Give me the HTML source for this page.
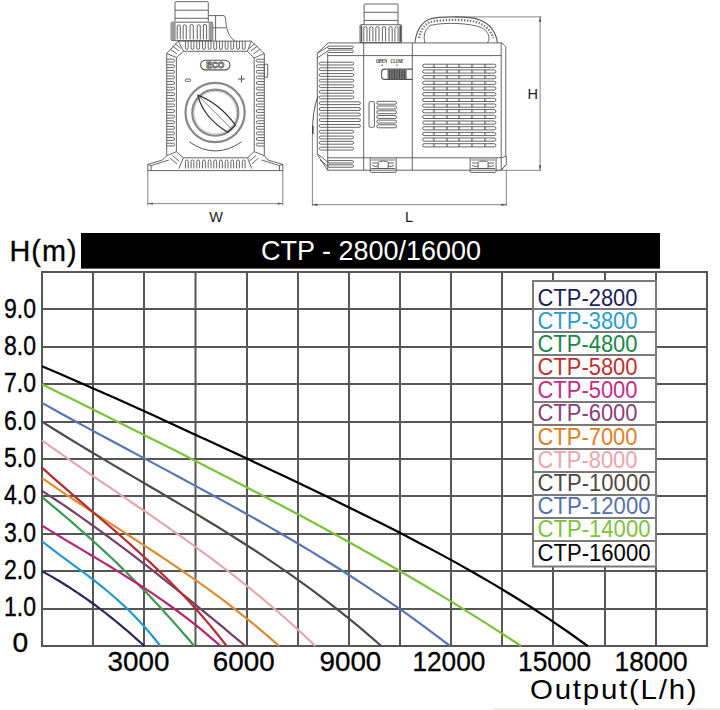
<!DOCTYPE html>
<html><head><meta charset="utf-8"><style>
html,body{margin:0;padding:0;background:#fff;width:720px;height:710px;overflow:hidden}
svg{display:block;font-family:"Liberation Sans",sans-serif}
</style></head><body>
<svg width="720" height="710" viewBox="0 0 720 710">
<rect width="720" height="710" fill="#fff"/>
<g fill="none" stroke="#555" stroke-width="0.9" stroke-linejoin="round">
<path d="M175 21.7V2.8Q175 1.7 176 1.7H207.3Q208.3 1.7 208.3 2.8V21.7" />
<path d="M175 10.2H208.3M175 18.3H208.3"/>
<rect x="171.1" y="22.2" width="41.7" height="18.4" rx="1"/>
<rect x="171.7" y="23" width="4" height="17" fill="#9a9a9a" stroke="none"/>
<rect x="208.7" y="23" width="3.6" height="17" fill="#9a9a9a" stroke="none"/>
<path d="M177.2 39.4V26A1.6 1.6 0 0 1 180.3 26V39.4"/>
<path d="M183.2 39.4V26A1.6 1.6 0 0 1 186.3 26V39.4"/>
<path d="M190.1 39.4V26A1.6 1.6 0 0 1 193.3 26V39.4"/>
<path d="M197.2 39.4V26A1.6 1.6 0 0 1 200.3 26V39.4"/>
<path d="M203.4 39.4V26A1.6 1.6 0 0 1 206.6 26V39.4"/>
<path d="M208.3 15.6H223.9Q225.6 15.6 225.8 22.2Q227 36 235 41.1M215.6 15.6V41.1M212.8 27.8H226.2"/>
<path d="M178.3 41.1H251.3L264.3 53.5V155.6L268 160 282.8 164.4V170.6H147.8V164.4L162.5 160 166.7 155.6V53.5Z"/>
<path d="M183.6 51.3H247.4L254.2 58V151.7L247.6 157.8H183.3L176.4 151.7V57.5Z"/>
<path d="M178.3 41.1L183.6 51.3M166.7 53.5L176.4 57.5M251.3 41.1L247.4 51.3M264.3 53.5L254.2 58M166.7 155.6L176.4 151.7M178.9 168.6L183.3 157.8M264.3 155.6L254.2 151.7M251.7 168.6L247.6 157.8"/>
<path d="M151.1 165.6L168.9 160M279.5 165.6L261.7 160M147.8 164.4L151.1 165.6V170.6M282.8 164.4L279.5 165.6V170.6"/>
<path d="M185.4 41.1V48A1.4 1.4 0 0 0 188.2 48V41.1"/>
<path d="M191.1 41.1V48A1.4 1.4 0 0 0 193.9 48V41.1"/>
<path d="M196.8 41.1V48A1.4 1.4 0 0 0 199.6 48V41.1"/>
<path d="M202.5 41.1V48A1.4 1.4 0 0 0 205.3 48V41.1"/>
<path d="M208.2 41.1V48A1.4 1.4 0 0 0 211.0 48V41.1"/>
<path d="M213.8 41.1V48A1.4 1.4 0 0 0 216.7 48V41.1"/>
<path d="M219.5 41.1V48A1.4 1.4 0 0 0 222.3 48V41.1"/>
<path d="M225.2 41.1V48A1.4 1.4 0 0 0 228.0 48V41.1"/>
<path d="M230.9 41.1V48A1.4 1.4 0 0 0 233.7 48V41.1"/>
<path d="M236.6 41.1V48A1.4 1.4 0 0 0 239.4 48V41.1"/>
<path d="M242.3 41.1V48A1.4 1.4 0 0 0 245.1 48V41.1"/>
<path d="M185.4 168.4V161.4A1.4 1.4 0 0 1 188.2 161.4V168.4"/>
<path d="M191.1 168.4V161.4A1.4 1.4 0 0 1 193.9 161.4V168.4"/>
<path d="M196.8 168.4V161.4A1.4 1.4 0 0 1 199.6 161.4V168.4"/>
<path d="M202.5 168.4V161.4A1.4 1.4 0 0 1 205.3 161.4V168.4"/>
<path d="M208.2 168.4V161.4A1.4 1.4 0 0 1 211.0 161.4V168.4"/>
<path d="M213.8 168.4V161.4A1.4 1.4 0 0 1 216.7 161.4V168.4"/>
<path d="M219.5 168.4V161.4A1.4 1.4 0 0 1 222.3 161.4V168.4"/>
<path d="M225.2 168.4V161.4A1.4 1.4 0 0 1 228.0 161.4V168.4"/>
<path d="M230.9 168.4V161.4A1.4 1.4 0 0 1 233.7 161.4V168.4"/>
<path d="M236.6 168.4V161.4A1.4 1.4 0 0 1 239.4 161.4V168.4"/>
<path d="M242.3 168.4V161.4A1.4 1.4 0 0 1 245.1 161.4V168.4"/>
<path d="M166.7 59.2H173.2A1.4 1.4 0 0 1 173.2 62.0H166.7"/>
<path d="M264.3 59.2H257.7A1.4 1.4 0 0 0 257.7 62.0H264.3"/>
<path d="M166.7 64.8H173.2A1.4 1.4 0 0 1 173.2 67.6H166.7"/>
<path d="M264.3 64.8H257.7A1.4 1.4 0 0 0 257.7 67.6H264.3"/>
<path d="M166.7 70.4H173.2A1.4 1.4 0 0 1 173.2 73.2H166.7"/>
<path d="M264.3 70.4H257.7A1.4 1.4 0 0 0 257.7 73.2H264.3"/>
<path d="M166.7 76.0H173.2A1.4 1.4 0 0 1 173.2 78.8H166.7"/>
<path d="M264.3 76.0H257.7A1.4 1.4 0 0 0 257.7 78.8H264.3"/>
<path d="M166.7 81.6H173.2A1.4 1.4 0 0 1 173.2 84.4H166.7"/>
<path d="M264.3 81.6H257.7A1.4 1.4 0 0 0 257.7 84.4H264.3"/>
<path d="M166.7 87.2H173.2A1.4 1.4 0 0 1 173.2 90.0H166.7"/>
<path d="M264.3 87.2H257.7A1.4 1.4 0 0 0 257.7 90.0H264.3"/>
<path d="M166.7 92.8H173.2A1.4 1.4 0 0 1 173.2 95.6H166.7"/>
<path d="M264.3 92.8H257.7A1.4 1.4 0 0 0 257.7 95.6H264.3"/>
<path d="M166.7 98.4H173.2A1.4 1.4 0 0 1 173.2 101.2H166.7"/>
<path d="M264.3 98.4H257.7A1.4 1.4 0 0 0 257.7 101.2H264.3"/>
<path d="M166.7 104.0H173.2A1.4 1.4 0 0 1 173.2 106.8H166.7"/>
<path d="M264.3 104.0H257.7A1.4 1.4 0 0 0 257.7 106.8H264.3"/>
<path d="M166.7 109.6H173.2A1.4 1.4 0 0 1 173.2 112.4H166.7"/>
<path d="M264.3 109.6H257.7A1.4 1.4 0 0 0 257.7 112.4H264.3"/>
<path d="M166.7 115.2H173.2A1.4 1.4 0 0 1 173.2 118.0H166.7"/>
<path d="M264.3 115.2H257.7A1.4 1.4 0 0 0 257.7 118.0H264.3"/>
<path d="M166.7 120.8H173.2A1.4 1.4 0 0 1 173.2 123.6H166.7"/>
<path d="M264.3 120.8H257.7A1.4 1.4 0 0 0 257.7 123.6H264.3"/>
<path d="M166.7 126.4H173.2A1.4 1.4 0 0 1 173.2 129.2H166.7"/>
<path d="M264.3 126.4H257.7A1.4 1.4 0 0 0 257.7 129.2H264.3"/>
<path d="M166.7 132.0H173.2A1.4 1.4 0 0 1 173.2 134.8H166.7"/>
<path d="M264.3 132.0H257.7A1.4 1.4 0 0 0 257.7 134.8H264.3"/>
<path d="M166.7 137.6H173.2A1.4 1.4 0 0 1 173.2 140.4H166.7"/>
<path d="M264.3 137.6H257.7A1.4 1.4 0 0 0 257.7 140.4H264.3"/>
<path d="M166.7 143.2H173.2A1.4 1.4 0 0 1 173.2 146.0H166.7"/>
<path d="M264.3 143.2H257.7A1.4 1.4 0 0 0 257.7 146.0H264.3"/>
<path d="M170 49L177 54M172.5 46L179 51M175 43.5L181 48.5M260 49L253.5 54M257.5 46L251 51M255 43.5L249 48.5"/>
<path d="M170 158L177 164M172.5 155.5L179 161M258.5 158L252 164M256 155.5L249.5 161"/>
<rect x="264.3" y="64.2" width="3.4" height="13" />
<rect x="200.6" y="60.3" width="29.3" height="9.6" rx="4.8" stroke-width="1.1"/>
<text x="215.2" y="68.2" font-size="8.5" font-weight="bold" text-anchor="middle" fill="#fff" stroke="#555" stroke-width="0.8" textLength="18" lengthAdjust="spacingAndGlyphs">ECO</text>
<rect x="185.2" y="79" width="5.4" height="2.4" rx="1"/>
<path d="M241.5 75.5V82.6M237.9 79H245.1" stroke-width="1.1"/>
<circle cx="215.1" cy="112.5" r="29.6" stroke="#888" stroke-width="2.2"/>
<circle cx="215.3" cy="112.7" r="23" stroke="#888" stroke-width="2.2"/>
<circle cx="215.3" cy="112.7" r="21.3" stroke="#bbb" stroke-width="0.8"/>
<path d="M197.8 95.1Q219 103 235.5 125.1L227.7 132.3Q203 117 197.8 95.1Z" stroke="#333" stroke-width="1.2"/>
<path d="M197.8 95.1L231.3 128.7" stroke="#444" stroke-width="0.7"/>
<path d="M189.4 141.9Q215.1 160 241.5 141.9" stroke="#555" stroke-width="1"/>
<path d="M147.8 170.6V205.5M282.8 170.6V205.5M147.8 203.6H282.8" stroke="#666" stroke-width="0.8"/>
<path d="M147.8 203.6l5 -1.2v2.4zM282.8 203.6l-5 -1.2v2.4z" fill="#555" stroke="none"/>
<path d="M364.1 24.7V5Q364.1 4 365.1 4H397Q398 4 398 5V24.7M364.1 12.3H398M364.1 20.4H398"/>
<rect x="360" y="24.7" width="41.6" height="18" rx="1"/>
<rect x="360.6" y="25.5" width="1.6" height="16.5" fill="#555" stroke="none"/>
<rect x="399.4" y="25.5" width="1.6" height="16.5" fill="#555" stroke="none"/>
<path d="M363.8 41.5V28.2A1.6 1.6 0 0 1 367.0 28.2V41.5"/>
<path d="M369.7 41.5V28.2A1.6 1.6 0 0 1 372.9 28.2V41.5"/>
<path d="M375.8 41.5V28.2A1.6 1.6 0 0 1 379.0 28.2V41.5"/>
<path d="M382.4 41.5V28.2A1.6 1.6 0 0 1 385.6 28.2V41.5"/>
<path d="M389.0 41.5V28.2A1.6 1.6 0 0 1 392.2 28.2V41.5"/>
<path d="M394.9 41.5V28.2A1.6 1.6 0 0 1 398.1 28.2V41.5"/>
<path d="M328.2 42.9H502L505.8 46.7V55.8M506.3 156V164.4L501.2 170.2H327.7L317.3 154.4V53.2L328.2 42.9"/>
<path d="M501.2 43V170.2M505.8 55.8V156"/>
<path d="M363.7 42.9V170.2M412.3 42.9V170.2M327.7 55.6H501.2M327.7 157.8H501.2M327.7 53.2V170.2"/>
<path d="M414.9 42.8C416 33 419 24 429 19.2C440 16 470 16 480 20C490 24 496 32 497.4 42.8" stroke-width="1.1"/>
<path d="M424.9 42.8C423 36 425 28 431 25.3C445 22 470 23 481.4 27.6C488 31 491 37 487.5 42.8"/>
<path d="M419 38C421 30 424 25 430 22C445 19 470 19 480 23.5C488 27 492 33 493 38" stroke="#777" stroke-dasharray="1.4 1.6" stroke-width="2.4"/>
<path d="M453.9 16.9H541.5M496.8 170.3H541.5M540.1 16.9V170.3" stroke="#666" stroke-width="0.8"/>
<path d="M540.1 16.9l-1.2 5h2.4zM540.1 170.3l-1.2 -5h2.4z" fill="#555" stroke="none"/>
<path d="M312.4 134V206M506.3 170V206M312.4 204.7H506.3" stroke="#666" stroke-width="0.8"/>
<path d="M312.4 204.7l5 -1.2v2.4zM506.3 204.7l-5 -1.2v2.4z" fill="#555" stroke="none"/>
<path d="M318 96Q312.4 110 312.4 134" stroke-width="1"/>
<rect x="312" y="126" width="1.6" height="8" fill="#444" stroke="none"/>
<path d="M328.9 46.1H352.1A1.2 1.2 0 0 1 352.1 48.5H328.9A1.2 1.2 0 0 1 328.9 46.1Z"/>
<path d="M328.9 50.1H352.1A1.2 1.2 0 0 1 352.1 52.5H328.9A1.2 1.2 0 0 1 328.9 50.1Z"/>
<path d="M320.7 62.2H352.4A1.4 1.4 0 0 1 352.4 65.0H320.7A1.4 1.4 0 0 1 320.7 62.2Z"/>
<path d="M320.7 67.8H352.4A1.4 1.4 0 0 1 352.4 70.6H320.7A1.4 1.4 0 0 1 320.7 67.8Z"/>
<path d="M320.7 73.6H352.4A1.4 1.4 0 0 1 352.4 76.4H320.7A1.4 1.4 0 0 1 320.7 73.6Z"/>
<path d="M320.7 79.2H352.4A1.4 1.4 0 0 1 352.4 82.0H320.7A1.4 1.4 0 0 1 320.7 79.2Z"/>
<path d="M320.7 84.8H352.4A1.4 1.4 0 0 1 352.4 87.6H320.7A1.4 1.4 0 0 1 320.7 84.8Z"/>
<path d="M320.7 90.4H352.4A1.4 1.4 0 0 1 352.4 93.2H320.7A1.4 1.4 0 0 1 320.7 90.4Z"/>
<path d="M320.7 96.0H352.4A1.4 1.4 0 0 1 352.4 98.8H320.7A1.4 1.4 0 0 1 320.7 96.0Z"/>
<path d="M320.7 101.8H359.0A1.4 1.4 0 0 1 359.0 104.6H320.7A1.4 1.4 0 0 1 320.7 101.8Z"/>
<path d="M320.7 107.6H359.0A1.4 1.4 0 0 1 359.0 110.4H320.7A1.4 1.4 0 0 1 320.7 107.6Z"/>
<path d="M320.7 113.1H359.0A1.4 1.4 0 0 1 359.0 115.9H320.7A1.4 1.4 0 0 1 320.7 113.1Z"/>
<path d="M320.7 118.7H359.0A1.4 1.4 0 0 1 359.0 121.5H320.7A1.4 1.4 0 0 1 320.7 118.7Z"/>
<path d="M320.7 124.5H359.0A1.4 1.4 0 0 1 359.0 127.3H320.7A1.4 1.4 0 0 1 320.7 124.5Z"/>
<path d="M320.7 130.3H352.2A1.4 1.4 0 0 1 352.2 133.1H320.7A1.4 1.4 0 0 1 320.7 130.3Z"/>
<path d="M320.7 136.1H352.2A1.4 1.4 0 0 1 352.2 138.9H320.7A1.4 1.4 0 0 1 320.7 136.1Z"/>
<path d="M320.7 141.4H352.2A1.4 1.4 0 0 1 352.2 144.2H320.7A1.4 1.4 0 0 1 320.7 141.4Z"/>
<path d="M320.7 147.2H352.2A1.4 1.4 0 0 1 352.2 150.0H320.7A1.4 1.4 0 0 1 320.7 147.2Z"/>
<path d="M328.9 160.6H352.4A1.2 1.2 0 0 1 352.4 163.0H328.9A1.2 1.2 0 0 1 328.9 160.6Z"/>
<path d="M328.9 164.8H352.4A1.2 1.2 0 0 1 352.4 167.2H328.9A1.2 1.2 0 0 1 328.9 164.8Z"/>
<path d="M317.3 53.2L327.7 47M317.3 58L327.7 51M318.2 154.4L327.7 162M320 160L327.7 166"/>
<text x="376" y="63.2" font-size="5.6" font-family="Liberation Serif" font-weight="bold" fill="#222" stroke="none" textLength="11" lengthAdjust="spacingAndGlyphs">OPEN</text>
<text x="390.5" y="63.2" font-size="5.6" font-family="Liberation Serif" font-weight="bold" fill="#222" stroke="none" textLength="12.8" lengthAdjust="spacingAndGlyphs">CLOSE</text>
<circle cx="382.1" cy="65.3" r="0.7" fill="#444" stroke="none"/><circle cx="396.9" cy="65.3" r="0.7" fill="#444" stroke="none"/>
<path d="M412.2 69.1H384.5Q381.6 69.1 381.6 72V76.5Q381.6 79.4 384.5 79.4H412.2" stroke-width="1.1"/>
<rect x="387.5" y="69.5" width="19.3" height="9.5" fill="#777" stroke="none"/>
<path d="M389.5 69.5V79M392 69.5V79M394.5 69.5V79M397 69.5V79M399.5 69.5V79M402 69.5V79M404.5 69.5V79" stroke="#333" stroke-width="0.7"/>
<rect x="369" y="101.6" width="5.4" height="25.7" rx="1.2"/>
<path d="M378.2 101.3H395.1A1.4 1.4 0 0 1 395.1 104.2H378.2A1.4 1.4 0 0 1 378.2 101.3Z"/>
<path d="M378.2 106.0H395.1A1.4 1.4 0 0 1 395.1 109.0H378.2A1.4 1.4 0 0 1 378.2 106.0Z"/>
<path d="M378.2 110.8H395.1A1.4 1.4 0 0 1 395.1 113.7H378.2A1.4 1.4 0 0 1 378.2 110.8Z"/>
<path d="M378.2 115.5H395.1A1.4 1.4 0 0 1 395.1 118.4H378.2A1.4 1.4 0 0 1 378.2 115.5Z"/>
<path d="M378.2 120.1H395.1A1.4 1.4 0 0 1 395.1 123.0H378.2A1.4 1.4 0 0 1 378.2 120.1Z"/>
<path d="M378.2 124.8H395.1A1.4 1.4 0 0 1 395.1 127.8H378.2A1.4 1.4 0 0 1 378.2 124.8Z"/>
<path d="M370.2 157.6V171.6Q370.2 172.4 371.2 172.4H395.2 Q396.2 172.4 396.2 171.6V157.6"/>
<rect x="371.2" y="158" width="24" height="3" fill="#bbb" stroke="none"/>
<path d="M372.2 163H377.2Q379.2 161 383.2 161Q387.2 161 389.2 163H394.2M378.2 163V168.5H388.2V163M371.2 168.5H395.2"/>
<path d="M372.2 165.5Q375.2 167 378.2 166M394.2 165.5Q391.2 167 388.2 166"/>
<path d="M470.1 157.6V171.6Q470.1 172.4 471.1 172.4H495.1 Q496.1 172.4 496.1 171.6V157.6"/>
<rect x="471.1" y="158" width="24" height="3" fill="#bbb" stroke="none"/>
<path d="M472.1 163H477.1Q479.1 161 483.1 161Q487.1 161 489.1 163H494.1M478.1 163V168.5H488.1V163M471.1 168.5H495.1"/>
<path d="M472.1 165.5Q475.1 167 478.1 166M494.1 165.5Q491.1 167 488.1 166"/>
<path d="M424.2 64.2H494.3A1.6 1.6 0 0 1 494.3 67.4H424.2A1.6 1.6 0 0 1 424.2 64.2Z"/>
<path d="M433.3 64.2V67.4M434.5 64.2V67.4" stroke-width="0.6"/>
<path d="M446.3 64.2V67.4M447.5 64.2V67.4" stroke-width="0.6"/>
<path d="M458.5 64.2V67.4M459.7 64.2V67.4" stroke-width="0.6"/>
<path d="M471.5 64.2V67.4M472.7 64.2V67.4" stroke-width="0.6"/>
<path d="M484.5 64.2V67.4M485.7 64.2V67.4" stroke-width="0.6"/>
<path d="M424.2 69.9H494.3A1.6 1.6 0 0 1 494.3 73.1H424.2A1.6 1.6 0 0 1 424.2 69.9Z"/>
<path d="M433.3 69.9V73.1M434.5 69.9V73.1" stroke-width="0.6"/>
<path d="M446.3 69.9V73.1M447.5 69.9V73.1" stroke-width="0.6"/>
<path d="M458.5 69.9V73.1M459.7 69.9V73.1" stroke-width="0.6"/>
<path d="M471.5 69.9V73.1M472.7 69.9V73.1" stroke-width="0.6"/>
<path d="M484.5 69.9V73.1M485.7 69.9V73.1" stroke-width="0.6"/>
<path d="M424.2 75.6H494.3A1.6 1.6 0 0 1 494.3 78.8H424.2A1.6 1.6 0 0 1 424.2 75.6Z"/>
<path d="M433.3 75.6V78.8M434.5 75.6V78.8" stroke-width="0.6"/>
<path d="M446.3 75.6V78.8M447.5 75.6V78.8" stroke-width="0.6"/>
<path d="M458.5 75.6V78.8M459.7 75.6V78.8" stroke-width="0.6"/>
<path d="M471.5 75.6V78.8M472.7 75.6V78.8" stroke-width="0.6"/>
<path d="M484.5 75.6V78.8M485.7 75.6V78.8" stroke-width="0.6"/>
<path d="M424.2 81.2H494.3A1.6 1.6 0 0 1 494.3 84.4H424.2A1.6 1.6 0 0 1 424.2 81.2Z"/>
<path d="M433.3 81.2V84.4M434.5 81.2V84.4" stroke-width="0.6"/>
<path d="M446.3 81.2V84.4M447.5 81.2V84.4" stroke-width="0.6"/>
<path d="M458.5 81.2V84.4M459.7 81.2V84.4" stroke-width="0.6"/>
<path d="M471.5 81.2V84.4M472.7 81.2V84.4" stroke-width="0.6"/>
<path d="M484.5 81.2V84.4M485.7 81.2V84.4" stroke-width="0.6"/>
<path d="M424.2 86.9H494.3A1.6 1.6 0 0 1 494.3 90.1H424.2A1.6 1.6 0 0 1 424.2 86.9Z"/>
<path d="M433.3 86.9V90.1M434.5 86.9V90.1" stroke-width="0.6"/>
<path d="M446.3 86.9V90.1M447.5 86.9V90.1" stroke-width="0.6"/>
<path d="M458.5 86.9V90.1M459.7 86.9V90.1" stroke-width="0.6"/>
<path d="M471.5 86.9V90.1M472.7 86.9V90.1" stroke-width="0.6"/>
<path d="M484.5 86.9V90.1M485.7 86.9V90.1" stroke-width="0.6"/>
<path d="M424.2 92.6H494.3A1.6 1.6 0 0 1 494.3 95.8H424.2A1.6 1.6 0 0 1 424.2 92.6Z"/>
<path d="M433.3 92.6V95.8M434.5 92.6V95.8" stroke-width="0.6"/>
<path d="M446.3 92.6V95.8M447.5 92.6V95.8" stroke-width="0.6"/>
<path d="M458.5 92.6V95.8M459.7 92.6V95.8" stroke-width="0.6"/>
<path d="M471.5 92.6V95.8M472.7 92.6V95.8" stroke-width="0.6"/>
<path d="M484.5 92.6V95.8M485.7 92.6V95.8" stroke-width="0.6"/>
<path d="M424.2 98.3H494.3A1.6 1.6 0 0 1 494.3 101.5H424.2A1.6 1.6 0 0 1 424.2 98.3Z"/>
<path d="M433.3 98.3V101.5M434.5 98.3V101.5" stroke-width="0.6"/>
<path d="M446.3 98.3V101.5M447.5 98.3V101.5" stroke-width="0.6"/>
<path d="M458.5 98.3V101.5M459.7 98.3V101.5" stroke-width="0.6"/>
<path d="M471.5 98.3V101.5M472.7 98.3V101.5" stroke-width="0.6"/>
<path d="M484.5 98.3V101.5M485.7 98.3V101.5" stroke-width="0.6"/>
<path d="M424.2 104.0H494.3A1.6 1.6 0 0 1 494.3 107.2H424.2A1.6 1.6 0 0 1 424.2 104.0Z"/>
<path d="M433.3 104.0V107.2M434.5 104.0V107.2" stroke-width="0.6"/>
<path d="M446.3 104.0V107.2M447.5 104.0V107.2" stroke-width="0.6"/>
<path d="M458.5 104.0V107.2M459.7 104.0V107.2" stroke-width="0.6"/>
<path d="M471.5 104.0V107.2M472.7 104.0V107.2" stroke-width="0.6"/>
<path d="M484.5 104.0V107.2M485.7 104.0V107.2" stroke-width="0.6"/>
<path d="M424.2 109.6H494.3A1.6 1.6 0 0 1 494.3 112.8H424.2A1.6 1.6 0 0 1 424.2 109.6Z"/>
<path d="M433.3 109.6V112.8M434.5 109.6V112.8" stroke-width="0.6"/>
<path d="M446.3 109.6V112.8M447.5 109.6V112.8" stroke-width="0.6"/>
<path d="M458.5 109.6V112.8M459.7 109.6V112.8" stroke-width="0.6"/>
<path d="M471.5 109.6V112.8M472.7 109.6V112.8" stroke-width="0.6"/>
<path d="M484.5 109.6V112.8M485.7 109.6V112.8" stroke-width="0.6"/>
<path d="M424.2 115.3H494.3A1.6 1.6 0 0 1 494.3 118.5H424.2A1.6 1.6 0 0 1 424.2 115.3Z"/>
<path d="M433.3 115.3V118.5M434.5 115.3V118.5" stroke-width="0.6"/>
<path d="M446.3 115.3V118.5M447.5 115.3V118.5" stroke-width="0.6"/>
<path d="M458.5 115.3V118.5M459.7 115.3V118.5" stroke-width="0.6"/>
<path d="M471.5 115.3V118.5M472.7 115.3V118.5" stroke-width="0.6"/>
<path d="M484.5 115.3V118.5M485.7 115.3V118.5" stroke-width="0.6"/>
<path d="M424.2 121.0H494.3A1.6 1.6 0 0 1 494.3 124.2H424.2A1.6 1.6 0 0 1 424.2 121.0Z"/>
<path d="M433.3 121.0V124.2M434.5 121.0V124.2" stroke-width="0.6"/>
<path d="M446.3 121.0V124.2M447.5 121.0V124.2" stroke-width="0.6"/>
<path d="M458.5 121.0V124.2M459.7 121.0V124.2" stroke-width="0.6"/>
<path d="M471.5 121.0V124.2M472.7 121.0V124.2" stroke-width="0.6"/>
<path d="M484.5 121.0V124.2M485.7 121.0V124.2" stroke-width="0.6"/>
<path d="M424.2 126.7H494.3A1.6 1.6 0 0 1 494.3 129.9H424.2A1.6 1.6 0 0 1 424.2 126.7Z"/>
<path d="M433.3 126.7V129.9M434.5 126.7V129.9" stroke-width="0.6"/>
<path d="M446.3 126.7V129.9M447.5 126.7V129.9" stroke-width="0.6"/>
<path d="M458.5 126.7V129.9M459.7 126.7V129.9" stroke-width="0.6"/>
<path d="M471.5 126.7V129.9M472.7 126.7V129.9" stroke-width="0.6"/>
<path d="M484.5 126.7V129.9M485.7 126.7V129.9" stroke-width="0.6"/>
<path d="M424.2 132.4H494.3A1.6 1.6 0 0 1 494.3 135.6H424.2A1.6 1.6 0 0 1 424.2 132.4Z"/>
<path d="M433.3 132.4V135.6M434.5 132.4V135.6" stroke-width="0.6"/>
<path d="M446.3 132.4V135.6M447.5 132.4V135.6" stroke-width="0.6"/>
<path d="M458.5 132.4V135.6M459.7 132.4V135.6" stroke-width="0.6"/>
<path d="M471.5 132.4V135.6M472.7 132.4V135.6" stroke-width="0.6"/>
<path d="M484.5 132.4V135.6M485.7 132.4V135.6" stroke-width="0.6"/>
<path d="M424.2 138.0H494.3A1.6 1.6 0 0 1 494.3 141.2H424.2A1.6 1.6 0 0 1 424.2 138.0Z"/>
<path d="M433.3 138.0V141.2M434.5 138.0V141.2" stroke-width="0.6"/>
<path d="M446.3 138.0V141.2M447.5 138.0V141.2" stroke-width="0.6"/>
<path d="M458.5 138.0V141.2M459.7 138.0V141.2" stroke-width="0.6"/>
<path d="M471.5 138.0V141.2M472.7 138.0V141.2" stroke-width="0.6"/>
<path d="M484.5 138.0V141.2M485.7 138.0V141.2" stroke-width="0.6"/>
<path d="M424.2 143.7H494.3A1.6 1.6 0 0 1 494.3 146.9H424.2A1.6 1.6 0 0 1 424.2 143.7Z"/>
<path d="M433.3 143.7V146.9M434.5 143.7V146.9" stroke-width="0.6"/>
<path d="M446.3 143.7V146.9M447.5 143.7V146.9" stroke-width="0.6"/>
<path d="M458.5 143.7V146.9M459.7 143.7V146.9" stroke-width="0.6"/>
<path d="M471.5 143.7V146.9M472.7 143.7V146.9" stroke-width="0.6"/>
<path d="M484.5 143.7V146.9M485.7 143.7V146.9" stroke-width="0.6"/>
<path d="M501.2 158L506.3 156M501.2 170.2L506.3 164.4"/>
</g>
<text x="216" y="221.5" font-size="14.5" fill="#222" text-anchor="middle">W</text>
<text x="409" y="221.8" font-size="14.5" fill="#222" text-anchor="middle">L</text>
<text x="532.7" y="98.9" font-size="14.5" fill="#222" text-anchor="middle">H</text>
<path d="M42 271V647M93 271V647M144 271V647M195.5 271V647M247 271V647M298 271V647M349 271V647M400 271V647M451 271V647M502 271V647M553 271V647M605 271V647M656 271V647M707 271V647M41 272H708M41 309H708M41 347H708M41 384H708M41 422H708M41 459H708M41 496H708M41 534H708M41 571H708M41 609H708M41 646H708" stroke="#565656" stroke-width="2" fill="none"/>
<g>
<polyline fill="none" stroke="#000000" stroke-width="2.2" points="42.0,366.2 60.8,374.3 79.6,382.4 98.4,390.7 117.3,399.1 136.1,407.6 154.9,416.1 173.7,424.8 192.5,433.4 211.3,442.1 230.1,450.8 249.0,459.6 267.8,468.5 286.6,477.3 305.4,486.3 324.2,495.3 343.0,504.4 361.8,513.7 380.6,523.1 399.5,532.6 418.3,542.4 437.1,552.4 455.9,562.6 474.7,573.2 493.5,584.1 512.3,595.5 531.2,607.3 550.0,619.6 568.8,632.5 587.6,646.0"/>
<polyline fill="none" stroke="#7cc23a" stroke-width="2.2" points="42.0,384.2 58.5,392.4 75.0,400.6 91.6,408.8 108.1,417.0 124.6,425.3 141.1,433.5 157.6,441.8 174.2,450.1 190.7,458.5 207.2,466.9 223.7,475.4 240.3,484.0 256.8,492.6 273.3,501.2 289.8,510.0 306.3,518.8 322.9,527.8 339.4,536.8 355.9,546.0 372.4,555.3 388.9,564.7 405.5,574.3 422.0,584.0 438.5,593.9 455.0,603.9 471.5,614.1 488.1,624.6 504.6,635.2 521.1,646.0"/>
<polyline fill="none" stroke="#5a74b4" stroke-width="2.2" points="42.0,402.9 56.1,410.7 70.1,418.5 84.2,426.1 98.3,433.7 112.4,441.3 126.4,448.8 140.5,456.4 154.6,463.9 168.6,471.4 182.7,479.0 196.8,486.6 210.9,494.2 224.9,501.9 239.0,509.7 253.1,517.6 267.1,525.6 281.2,533.7 295.3,542.0 309.4,550.4 323.4,559.0 337.5,567.8 351.6,576.7 365.6,585.9 379.7,595.3 393.8,604.9 407.9,614.7 421.9,624.9 436.0,635.3 450.1,646.0"/>
<polyline fill="none" stroke="#4d4a48" stroke-width="2.2" points="42.0,421.6 53.7,429.0 65.4,436.2 77.1,443.4 88.8,450.5 100.5,457.4 112.2,464.4 123.9,471.3 135.6,478.1 147.3,485.0 159.0,491.8 170.7,498.7 182.4,505.6 194.1,512.6 205.8,519.7 217.5,526.8 229.2,534.1 240.9,541.5 252.6,549.0 264.3,556.7 276.0,564.6 287.7,572.6 299.4,580.9 311.1,589.4 322.8,598.1 334.5,607.1 346.2,616.4 357.9,625.9 369.6,635.8 381.3,646.0"/>
<polyline fill="none" stroke="#e3a8ad" stroke-width="2.2" points="42.0,440.3 51.4,447.1 60.8,453.7 70.3,460.3 79.7,466.9 89.1,473.4 98.5,479.8 108.0,486.2 117.4,492.7 126.8,499.1 136.2,505.5 145.7,511.9 155.1,518.4 164.5,524.9 173.9,531.5 183.4,538.2 192.8,544.9 202.2,551.8 211.6,558.7 221.1,565.8 230.5,573.0 239.9,580.4 249.3,587.9 258.8,595.6 268.2,603.5 277.6,611.5 287.0,619.8 296.5,628.3 305.9,637.0 315.3,646.0"/>
<polyline fill="none" stroke="#dc8c32" stroke-width="2.2" points="42.0,478.1 50.2,483.7 58.4,489.3 66.5,494.8 74.7,500.3 82.9,505.7 91.1,511.0 99.2,516.3 107.4,521.6 115.6,526.9 123.8,532.2 131.9,537.5 140.1,542.8 148.3,548.1 156.5,553.5 164.7,558.9 172.8,564.4 181.0,570.0 189.2,575.6 197.4,581.4 205.5,587.2 213.7,593.1 221.9,599.2 230.1,605.4 238.2,611.8 246.4,618.3 254.6,624.9 262.8,631.8 271.0,638.8 279.1,646.0"/>
<polyline fill="none" stroke="#763f66" stroke-width="2.2" points="42.0,490.8 49.0,495.4 56.0,500.0 63.0,504.7 70.1,509.5 77.1,514.4 84.1,519.3 91.1,524.3 98.1,529.3 105.1,534.5 112.1,539.6 119.2,544.8 126.2,550.1 133.2,555.4 140.2,560.8 147.2,566.2 154.2,571.7 161.2,577.2 168.3,582.8 175.3,588.4 182.3,594.0 189.3,599.7 196.3,605.4 203.3,611.1 210.3,616.9 217.4,622.6 224.4,628.4 231.4,634.3 238.4,640.1 245.4,646.0"/>
<polyline fill="none" stroke="#b82c2e" stroke-width="2.2" points="42.0,467.6 48.4,473.4 54.7,479.1 61.1,484.7 67.5,490.2 73.8,495.7 80.2,501.2 86.6,506.6 92.9,512.1 99.3,517.5 105.7,523.0 112.1,528.4 118.4,533.9 124.8,539.5 131.2,545.1 137.5,550.9 143.9,556.7 150.3,562.6 156.6,568.6 163.0,574.7 169.4,581.0 175.7,587.5 182.1,594.1 188.5,600.8 194.8,607.8 201.2,615.0 207.6,622.4 213.9,630.0 220.3,637.9 226.7,646.0"/>
<polyline fill="none" stroke="#3a9a50" stroke-width="2.2" points="42.0,497.1 47.2,501.4 52.5,505.8 57.7,510.1 63.0,514.6 68.2,519.0 73.5,523.6 78.7,528.2 84.0,532.8 89.2,537.5 94.5,542.2 99.7,547.0 105.0,551.9 110.2,556.8 115.5,561.8 120.7,566.9 126.0,572.0 131.2,577.2 136.5,582.5 141.7,587.9 147.0,593.3 152.2,598.8 157.5,604.4 162.7,610.1 168.0,615.9 173.2,621.7 178.5,627.6 183.7,633.7 189.0,639.8 194.2,646.0"/>
<polyline fill="none" stroke="#b8246e" stroke-width="2.2" points="42.0,525.6 48.2,529.4 54.3,533.1 60.5,536.9 66.6,540.6 72.8,544.2 78.9,547.9 85.1,551.6 91.2,555.2 97.4,558.9 103.5,562.6 109.7,566.3 115.8,570.1 122.0,573.9 128.1,577.7 134.3,581.6 140.5,585.5 146.6,589.6 152.8,593.7 158.9,597.9 165.1,602.1 171.2,606.5 177.4,611.0 183.5,615.6 189.7,620.3 195.8,625.2 202.0,630.2 208.1,635.3 214.3,640.6 220.4,646.0"/>
<polyline fill="none" stroke="#1f9ad0" stroke-width="2.2" points="42.0,541.3 46.1,544.5 50.2,547.6 54.2,550.7 58.3,553.8 62.4,556.8 66.5,559.8 70.6,562.8 74.6,565.8 78.7,568.8 82.8,571.9 86.9,574.9 91.0,578.0 95.0,581.2 99.1,584.4 103.2,587.7 107.3,591.0 111.4,594.5 115.4,598.0 119.5,601.7 123.6,605.4 127.7,609.3 131.8,613.3 135.8,617.5 139.9,621.8 144.0,626.3 148.1,630.9 152.2,635.8 156.2,640.8 160.3,646.0"/>
<polyline fill="none" stroke="#28285a" stroke-width="2.2" points="42.0,571.2 45.5,573.1 49.1,575.1 52.6,577.1 56.1,579.2 59.6,581.3 63.2,583.5 66.7,585.7 70.2,587.9 73.7,590.3 77.3,592.6 80.8,595.0 84.3,597.4 87.9,599.9 91.4,602.5 94.9,605.0 98.4,607.7 102.0,610.3 105.5,613.0 109.0,615.8 112.6,618.6 116.1,621.5 119.6,624.4 123.1,627.3 126.7,630.3 130.2,633.4 133.7,636.5 137.2,639.6 140.8,642.8 144.3,646.0"/>
</g>
<rect x="533" y="281" width="123" height="285.5" fill="#fff" stroke="#7a7a7a" stroke-width="2"/>
<path d="M533 309H656M533 332H656M533 355H656M533 378H656M533 402H656M533 425H656M533 449H656M533 472H656M533 495H656M533 518H656M533 541H656" stroke="#7a7a7a" stroke-width="2"/>
<g>
<text x="537.5" y="305.5" font-size="23.5" fill="#1e1a5c" textLength="100" lengthAdjust="spacingAndGlyphs">CTP-2800</text><text x="537.5" y="328.7" font-size="23.5" fill="#2a9ad2" textLength="100" lengthAdjust="spacingAndGlyphs">CTP-3800</text><text x="537.5" y="351.9" font-size="23.5" fill="#17874a" textLength="100" lengthAdjust="spacingAndGlyphs">CTP-4800</text><text x="537.5" y="375.1" font-size="23.5" fill="#c0302e" textLength="100" lengthAdjust="spacingAndGlyphs">CTP-5800</text><text x="537.5" y="398.3" font-size="23.5" fill="#c82a86" textLength="100" lengthAdjust="spacingAndGlyphs">CTP-5000</text><text x="537.5" y="421.4" font-size="23.5" fill="#8a3f78" textLength="100" lengthAdjust="spacingAndGlyphs">CTP-6000</text><text x="537.5" y="444.6" font-size="23.5" fill="#e27d22" textLength="100" lengthAdjust="spacingAndGlyphs">CTP-7000</text><text x="537.5" y="467.8" font-size="23.5" fill="#eda3ab" textLength="100" lengthAdjust="spacingAndGlyphs">CTP-8000</text><text x="537.5" y="491.0" font-size="23.5" fill="#4e4845" textLength="113" lengthAdjust="spacingAndGlyphs">CTP-10000</text><text x="537.5" y="514.2" font-size="23.5" fill="#5570b0" textLength="113" lengthAdjust="spacingAndGlyphs">CTP-12000</text><text x="537.5" y="537.4" font-size="23.5" fill="#7cc23a" textLength="113" lengthAdjust="spacingAndGlyphs">CTP-14000</text><text x="537.5" y="560.6" font-size="23.5" fill="#000000" textLength="113" lengthAdjust="spacingAndGlyphs">CTP-16000</text>
</g>
<rect x="81" y="233" width="579" height="35.6" fill="#000"/>
<text x="261" y="260" font-size="27.2" fill="#fff" textLength="220" lengthAdjust="spacingAndGlyphs">CTP - 2800/16000</text>
<text x="9.5" y="261.3" font-size="28.8" fill="#000" textLength="67" lengthAdjust="spacing" stroke="#000" stroke-width="0.3">H(m)</text>
<g>
<text x="4" y="317.8" font-size="28.2" fill="#000" textLength="32" lengthAdjust="spacingAndGlyphs" stroke="#000" stroke-width="0.35">9.0</text><text x="4" y="355.1" font-size="28.2" fill="#000" textLength="32" lengthAdjust="spacingAndGlyphs" stroke="#000" stroke-width="0.35">8.0</text><text x="4" y="392.4" font-size="28.2" fill="#000" textLength="32" lengthAdjust="spacingAndGlyphs" stroke="#000" stroke-width="0.35">7.0</text><text x="4" y="429.7" font-size="28.2" fill="#000" textLength="32" lengthAdjust="spacingAndGlyphs" stroke="#000" stroke-width="0.35">6.0</text><text x="4" y="467.0" font-size="28.2" fill="#000" textLength="32" lengthAdjust="spacingAndGlyphs" stroke="#000" stroke-width="0.35">5.0</text><text x="4" y="504.3" font-size="28.2" fill="#000" textLength="32" lengthAdjust="spacingAndGlyphs" stroke="#000" stroke-width="0.35">4.0</text><text x="4" y="541.6" font-size="28.2" fill="#000" textLength="32" lengthAdjust="spacingAndGlyphs" stroke="#000" stroke-width="0.35">3.0</text><text x="4" y="578.9" font-size="28.2" fill="#000" textLength="32" lengthAdjust="spacingAndGlyphs" stroke="#000" stroke-width="0.35">2.0</text><text x="4" y="616.2" font-size="28.2" fill="#000" textLength="32" lengthAdjust="spacingAndGlyphs" stroke="#000" stroke-width="0.35">1.0</text><text x="20.3" y="652.2" font-size="28.2" fill="#000" text-anchor="middle" stroke="#000" stroke-width="0.35">0</text>
</g>
<g>
<text x="138.5" y="671" font-size="27.8" fill="#000" text-anchor="middle" stroke="#000" stroke-width="0.3">3000</text><text x="243.7" y="671" font-size="27.8" fill="#000" text-anchor="middle" stroke="#000" stroke-width="0.3">6000</text><text x="350.4" y="671" font-size="27.8" fill="#000" text-anchor="middle" stroke="#000" stroke-width="0.3">9000</text><text x="448.9" y="671" font-size="27.8" fill="#000" text-anchor="middle" textLength="73" lengthAdjust="spacingAndGlyphs" stroke="#000" stroke-width="0.3">12000</text><text x="554.6" y="671" font-size="27.8" fill="#000" text-anchor="middle" textLength="73" lengthAdjust="spacingAndGlyphs" stroke="#000" stroke-width="0.3">15000</text><text x="651.1" y="671" font-size="27.8" fill="#000" text-anchor="middle" textLength="73" lengthAdjust="spacingAndGlyphs" stroke="#000" stroke-width="0.3">18000</text>
</g>
<g transform="translate(530 699) scale(1.1 1)"><text x="0" y="0" font-size="26.8" fill="#000" letter-spacing="1.6">Output(L/h)</text></g>
<rect x="493" y="708" width="227" height="2" fill="#ededea"/>
</svg>
</body></html>
